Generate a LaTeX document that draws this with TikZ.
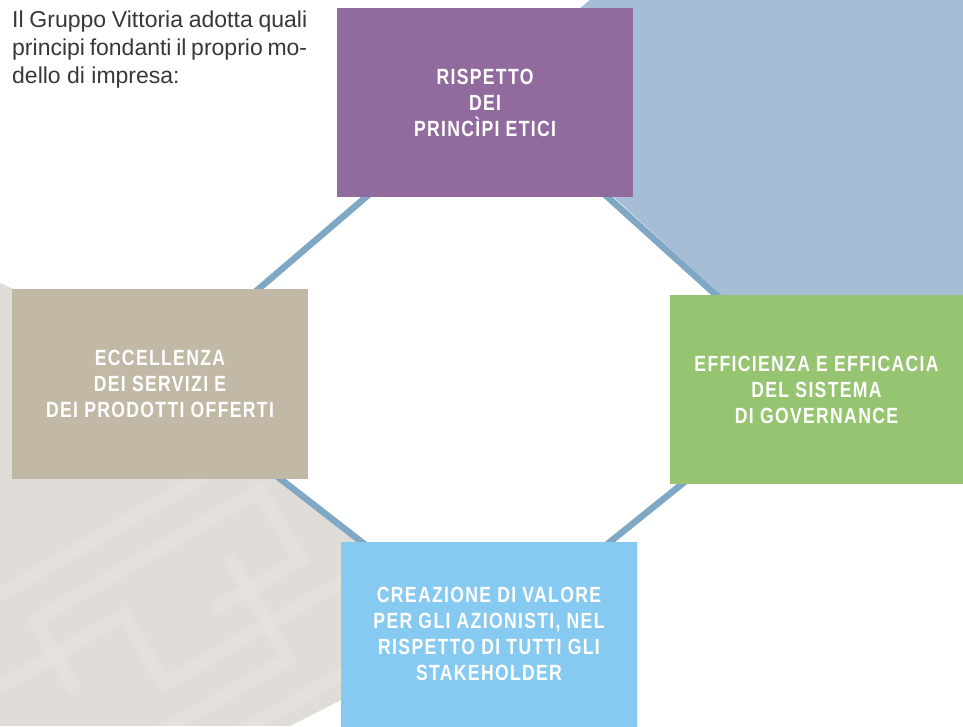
\documentclass[tikz,border=0pt]{standalone}
\usepackage{fontspec}
\setmainfont{Liberation Sans}
\newfontfamily\boxfont[FakeStretch=0.8,LetterSpace=6]{Liberation Sans}
\usetikzlibrary{calc}
\pgfdeclarelayer{bg}
\pgfdeclarelayer{bgbg}
\pgfsetlayers{bgbg,bg,main}
\definecolor{cpurple}{HTML}{916B9E}
\definecolor{ctan}{HTML}{C2B8A6}
\definecolor{cgreen}{HTML}{96C471}
\definecolor{clblue}{HTML}{87CAF1}
\definecolor{cpoly}{HTML}{A5BED5}
\definecolor{cline}{HTML}{7FA8C6}
\definecolor{cmarble}{HTML}{E0DCD8}
\definecolor{cmarblelt}{HTML}{E8E5E2}
\definecolor{ctext}{HTML}{383838}
\begin{document}
\begin{tikzpicture}[x=1pt,y=-1pt,
  pbox/.style={rectangle, inner sep=0pt, text=white, align=center,
    font=\boxfont\bfseries\fontsize{22}{26}\selectfont},
  link/.style={draw=cline, line width=6.5pt, shorten <=-6pt, shorten >=-6pt},
  para/.style={anchor=base west, inner sep=0pt, text=ctext,
    font=\fontsize{23}{28}\selectfont}]
\useasboundingbox (0,0) rectangle (963,726);

\node[pbox, fill=cpurple, minimum width=296pt, minimum height=189pt] (purple) at (485,102.5)
  {RISPETTO\\DEI\\PRINCÌPI ETICI};
\node[pbox, fill=ctan, minimum width=296pt, minimum height=190pt] (tan) at (160,384)
  {ECCELLENZA\\DEI SERVIZI E\\DEI PRODOTTI OFFERTI};
\node[pbox, fill=cgreen, minimum width=293pt, minimum height=189pt] (green) at (816.5,389.5)
  {EFFICIENZA E EFFICACIA\\DEL SISTEMA\\DI GOVERNANCE};
\node[pbox, fill=clblue, minimum width=296pt, minimum height=185pt] (blue) at (489,634)
  {CREAZIONE DI VALORE\\PER GLI AZIONISTI, NEL\\RISPETTO DI TUTTI GLI\\STAKEHOLDER};

\node[para] (p1) at (12,27) {\makebox[295pt][s]{Il Gruppo Vittoria adotta quali}};
\node[para] (p2) at (12,55) {\makebox[295pt][s]{principi fondanti il proprio mo-}};
\node[para] (p3) at (12,83) {dello di impresa:};

\begin{pgfonlayer}{bgbg}
  \fill[cpoly] (590,0) -- (963,0) -- (963,300) -- (726,300) -- (582,168) -- (570,16) -- cycle;
  \begin{scope}
    \clip (0,283) -- (200,370) -- (270,470.5) -- (372,549.7) -- (361,690) -- (290,726) -- (0,726) -- cycle;
    \fill[cmarble] (0,0) rectangle (963,726);
    \begin{scope}[cmarblelt, line width=14pt, opacity=0.55, rotate around={30:(150,600)}]
      \draw (-100,520) -- (420,520);
      \draw (-100,600) -- (120,600) -- (120,680) -- (420,680);
      \draw (40,640) -- (40,560) -- (300,560) -- (300,640) -- (200,640);
      \draw (-100,760) -- (420,760);
      \draw (60,720) -- (240,720) -- (240,600);
    \end{scope}
  \end{scope}
\end{pgfonlayer}

\begin{pgfonlayer}{bg}
  \draw[link] ($(purple.south west)+(29,0)$) -- ($(tan.north west)+(247,0)$);
  \draw[link] ($(purple.south west)+(271,0)$) -- ($(green.north west)+(46,0)$);
  \draw[link] ($(tan.south west)+(269,0)$) -- ($(blue.north west)+(20,0)$);
  \draw[link] ($(green.south west)+(12,0)$) -- ($(blue.north west)+(270,0)$);
\end{pgfonlayer}
\end{tikzpicture}
\end{document}
